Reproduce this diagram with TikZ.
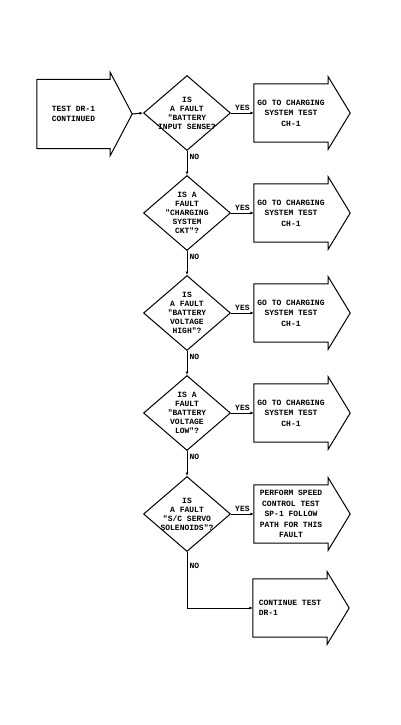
\documentclass[tikz,border=0pt]{standalone}
\usepackage{fontspec}
\setmonofont{Liberation Mono}
\usetikzlibrary{shapes.geometric, arrows.meta, calc}
\newcommand{\flowarrow}[1]{%
  \coordinate (#1tip) at ($(#1.east)+(22,0)$);
  \draw[ln] (#1.north west) -- (#1.north east) -- ++(0,7) -- (#1tip) -- ($(#1.south east)+(0,-7)$) -- (#1.south east) -- (#1.south west) -- cycle;}

\begin{document}
\begin{tikzpicture}[x=1pt,y=1pt]
\tikzset{
  dq/.style={diamond,draw=black,line width=1pt,minimum width=87pt,minimum height=75pt,inner sep=-10pt,align=center,font=\ttfamily\bfseries\fontsize{8}{9}\selectfont},
  bx/.style={rectangle,minimum width=74pt,minimum height=58pt,inner sep=1pt,align=center,font=\ttfamily\bfseries\fontsize{8}{10.5}\selectfont},
  ln/.style={line width=1pt,draw=black},
  ar/.style={-{Latex[length=3.5pt,width=3pt]},line width=1pt,draw=black},
  lb/.style={font=\ttfamily\bfseries\fontsize{8}{9}\selectfont,inner sep=2pt}
}
\useasboundingbox (0,0) rectangle (401,-725);
\node[bx,minimum width=73pt,minimum height=69pt] (st) at (73.5,-114) {TEST DR-1\\CONTINUED};
\node[dq] (d1) at (187,-113) {IS\\A FAULT\\"BATTERY\\INPUT SENSE?};
\node[dq] (d2) at (187,-213) {IS A\\FAULT\\"CHARGING\\SYSTEM\\CKT"?};
\node[dq] (d3) at (187,-313) {IS\\A FAULT\\"BATTERY\\VOLTAGE\\HIGH"?};
\node[dq] (d4) at (187,-413) {IS A\\FAULT\\"BATTERY\\VOLTAGE\\LOW"?};
\node[dq] (d5) at (187,-514) {IS\\A FAULT\\"S/C SERVO\\SOLENOIDS"?};
\node[bx] (r1) at (291,-113) {GO TO CHARGING\\SYSTEM TEST\\CH-1};
\node[bx] (r2) at (291,-213) {GO TO CHARGING\\SYSTEM TEST\\CH-1};
\node[bx] (r3) at (291,-313) {GO TO CHARGING\\SYSTEM TEST\\CH-1};
\node[bx] (r4) at (291,-413) {GO TO CHARGING\\SYSTEM TEST\\CH-1};
\node[bx] (r5) at (291,-514) {PERFORM SPEED\\CONTROL TEST\\SP-1 FOLLOW\\PATH FOR THIS\\FAULT};
\node[bx,align=left] (r6) at (290,-608) {CONTINUE TEST\\ DR-1};
\flowarrow{st} \flowarrow{r1} \flowarrow{r2} \flowarrow{r3}
\flowarrow{r4} \flowarrow{r5} \flowarrow{r6}
% yes branches
\draw[ar] (sttip) -- (d1.west);
\draw[ar] (d1.east) -- node[lb,above]{YES} (r1.west);
\draw[ar] (d2.east) -- node[lb,above]{YES} (r2.west);
\draw[ar] (d3.east) -- node[lb,above]{YES} (r3.west);
\draw[ar] (d4.east) -- node[lb,above]{YES} (r4.west);
\draw[ar] (d5.east) -- node[lb,above]{YES} (r5.west);
% no branches
\draw[ar] (d1.south) -- node[lb,right,pos=0.25]{NO} (d2.north);
\draw[ar] (d2.south) -- node[lb,right,pos=0.25]{NO} (d3.north);
\draw[ar] (d3.south) -- node[lb,right,pos=0.25]{NO} (d4.north);
\draw[ar] (d4.south) -- node[lb,right,pos=0.25]{NO} (d5.north);
\draw[ar] (d5.south) |- node[lb,right,pos=0.12]{NO} (r6.west);
\end{tikzpicture}
\end{document}
